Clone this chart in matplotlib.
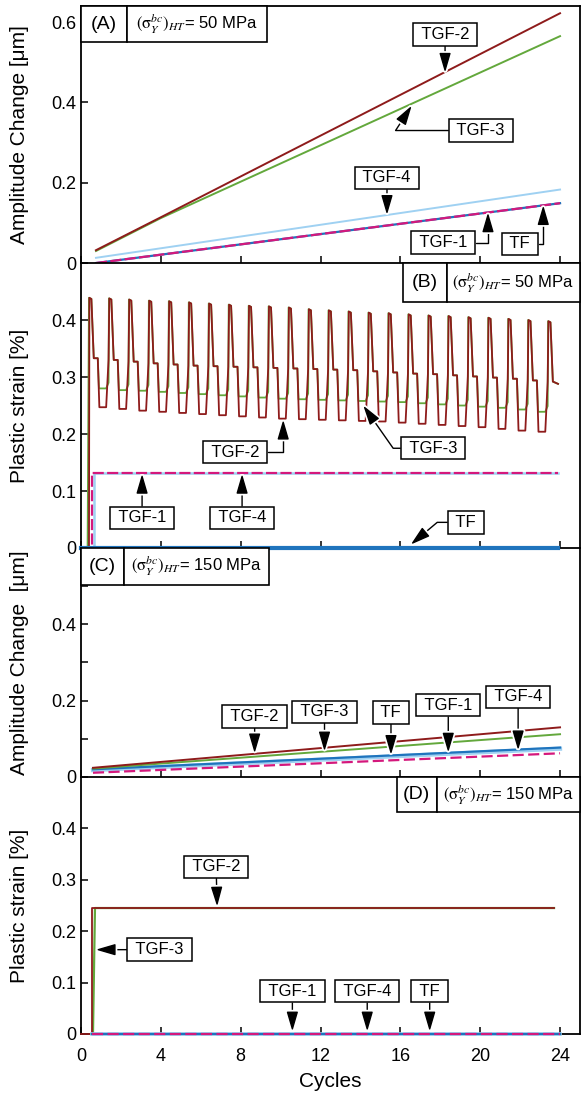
import numpy as np
import matplotlib
matplotlib.use('Agg')
import matplotlib.pyplot as plt
import matplotlib.patheffects as pe
from matplotlib.patches import Rectangle
from matplotlib.ticker import FuncFormatter

plt.rcParams['font.family'] = ['Liberation Sans', 'DejaVu Sans']
plt.rcParams['mathtext.fontset'] = 'stix'

# kolory serii
col_tgf1 = '#d4187c'
col_tgf2 = '#8e1b1b'
col_tgf3 = '#63a83c'
col_tgf4 = '#9fd1f2'
col_tf = '#1f74bd'

# --- (A) amplituda, 50 MPa ---
a_x_fast = [0.75, 4.0, 24.0]
a_tgf2 = [0.032, 0.114, 0.622]
a_tgf3 = [0.030, 0.112, 0.565]
a_x_slow = [0.75, 24.0]
a_tgf4 = [0.013, 0.183]
a_tgf1 = [0.0, 0.149]
a_tf = [0.0, 0.149]

# --- (B) odksztalcenie plastyczne, 50 MPa ---
b_cycle = np.arange(24)          # numer cyklu
b_peak = [0.439, 0.438, 0.436, 0.434, 0.433, 0.431, 0.429, 0.427, 0.425, 0.424,
          0.422, 0.419, 0.417, 0.415, 0.413, 0.412, 0.410, 0.408, 0.407, 0.405,
          0.404, 0.402, 0.400, 0.398]
b_mid = [0.333, 0.330, 0.327, 0.324, 0.322, 0.320, 0.319, 0.318, 0.317, 0.316,
         0.315, 0.314, 0.313, 0.312, 0.310, 0.308, 0.306, 0.305, 0.303, 0.301,
         0.299, 0.297, 0.294, 0.292]
b_low_tgf2 = [0.247, 0.244, 0.241, 0.239, 0.237, 0.235, 0.233, 0.231, 0.229, 0.227,
              0.226, 0.225, 0.224, 0.223, 0.222, 0.220, 0.218, 0.216, 0.214, 0.212,
              0.209, 0.206, 0.204]
b_low_tgf3 = [0.280, 0.277, 0.276, 0.274, 0.272, 0.270, 0.268, 0.266, 0.264, 0.262,
              0.261, 0.260, 0.259, 0.258, 0.257, 0.256, 0.254, 0.252, 0.250, 0.248,
              0.246, 0.243, 0.239]
b_end = 0.288
b_step_x = [0.0, 0.57, 0.57, 23.9]
b_tgf1 = [0.0, 0.0, 0.132, 0.132]
b_step_x4 = [0.0, 0.65, 0.65, 23.9]
b_tgf4 = [0.0, 0.0, 0.132, 0.132]
b_tf_x = [0.0, 23.9]
b_tf = [0.0, 0.0]

# --- (C) amplituda, 150 MPa ---
c_x = [0.6, 24.0]
c_tgf2 = [0.024, 0.130]
c_tgf3 = [0.022, 0.112]
c_tf = [0.020, 0.077]
c_tgf4 = [0.018, 0.074]
c_tgf1 = [0.011, 0.062]

# --- (D) odksztalcenie plastyczne, 150 MPa ---
d_x2 = [0.0, 0.55, 0.55, 23.7]
d_tgf2 = [0.0, 0.0, 0.245, 0.245]
d_x3 = [0.6, 0.7, 23.7]
d_tgf3 = [0.0, 0.245, 0.245]
d_x0 = [0.55, 24.0]
d_zero = [0.0, 0.0]


def sawtooth(low, rise_start, rise_peak, low_end, drop_end):
    """ Buduje przebieg pilowy z poziomow odczytanych dla kazdego cyklu """
    xs, ys = [], []
    n = len(b_peak)
    for k in range(n):
        t0 = b_cycle[k] + 0.42
        if k == 0:
            xs += [rise_start, t0 + rise_peak]
            ys += [0.0, b_peak[0]]
        else:
            xs += [t0 - 0.04, t0 + rise_peak]
            ys += [b_mid[k] if rise_peak == 0 else low[k - 1] + 0.01, b_peak[k]]
        xs += [t0 + 0.10, t0 + 0.22]
        ys += [b_peak[k] - 0.002, b_mid[k]]
        if k < n - 1:
            xs += [t0 + 0.42, t0 + drop_end, t0 + low_end]
            ys += [b_mid[k], low[k], low[k]]
        else:
            xs += [23.9]
            ys += [b_end]
    return xs, ys


fig = plt.figure(figsize=(5.81, 10.96), dpi=100)
left, width = 81 / 581, 499 / 581
axA = fig.add_axes([left, 0.7600, width, 0.2345])
axB = fig.add_axes([left, 0.5000, width, 0.2600])
axC = fig.add_axes([left, 0.2911, width, 0.2089])
axD = fig.add_axes([left, 0.0566, width, 0.2345])

fmt = FuncFormatter(lambda v, _: '{:g}'.format(round(v, 2)))

for ax in [axA, axB, axC, axD]:
    ax.patch.set_visible(False)
    ax.set_xlim(0, 25)
    ax.set_xticks([0, 4, 8, 12, 16, 20, 24])
    ax.tick_params(axis='both', which='both', direction='in', length=5, width=1.1,
                   labelsize=13, top=False, right=False)
    ax.tick_params(axis='x', pad=10)
    ax.yaxis.set_major_formatter(fmt)
    for s in ax.spines.values():
        s.set_linewidth(1.3)
    ax.yaxis.set_label_coords(-0.105, 0.5)

# granice miedzy panelami rysuje dolna os panelu wyzej
for ax in [axB, axC, axD]:
    ax.spines['top'].set_visible(False)

for ax in [axA, axB, axC]:
    ax.tick_params(axis='x', labelbottom=False)


def panel_boxes(ax, letter, value, x0, split, x1, height):
    y0 = 1 - height
    ax.add_patch(Rectangle((x0, y0), split - x0, height, transform=ax.transAxes,
                           fc='white', ec='black', lw=1.2, zorder=6, clip_on=False))
    ax.add_patch(Rectangle((split, y0), x1 - split, height, transform=ax.transAxes,
                           fc='white', ec='black', lw=1.2, zorder=6, clip_on=False))
    ax.text((x0 + split) / 2, y0 + height / 2, letter, transform=ax.transAxes,
            ha='center', va='center', fontsize=14, zorder=7)
    ax.text((split + x1) / 2, y0 + height / 2,
            r'$(\mathrm{\sigma}^{bc}_{Y})_{HT}$= ' + value + ' MPa',
            transform=ax.transAxes, ha='center', va='center', fontsize=12, zorder=7)


def tag(ax, text, box, tip, conn=None):
    props = dict(arrowstyle='-|>,head_length=1.2,head_width=0.35', color='black',
                 lw=1.0, mutation_scale=10, shrinkA=0, shrinkB=0)
    if conn is not None:
        props['connectionstyle'] = 'angle,angleA=%g,angleB=%g,rad=0' % conn
    ann = ax.annotate(' ' + text + ' ', xy=tip, xytext=box, ha='center', va='center',
                      fontsize=12, zorder=8,
                      bbox=dict(boxstyle='square,pad=0.22', fc='white', ec='black', lw=1.1),
                      arrowprops=props)
    ann.arrow_patch.set_path_effects([pe.Stroke(linewidth=3.5, foreground='white'),
                                      pe.Normal()])
    return ann


# (A)
axA.plot(a_x_fast, a_tgf3, color=col_tgf3, lw=1.4)
axA.plot(a_x_fast, a_tgf2, color=col_tgf2, lw=1.4)
axA.plot(a_x_slow, a_tgf4, color=col_tgf4, lw=1.4)
axA.plot(a_x_slow, a_tf, color=col_tf, lw=1.6)
axA.plot(a_x_slow, a_tgf1, color=col_tgf1, lw=1.6, dashes=(5, 1.5))
axA.set_ylim(0, 0.64)
axA.set_yticks([0, 0.2, 0.4, 0.6])
axA.set_ylabel('Amplitude Change [\u03bcm]', fontsize=15)
panel_boxes(axA, '(A)', '50', 0.0, 0.092, 0.373, 0.14)
tag(axA, 'TGF-2', (18.24, 0.569), (18.24, 0.474))
tag(axA, 'TGF-3', (20.04, 0.330), (16.57, 0.392), conn=(0, 57))
tag(axA, 'TGF-4', (15.33, 0.212), (15.33, 0.120))
tag(axA, 'TGF-1', (18.14, 0.051), (20.39, 0.126), conn=(0, 90))
tag(axA, 'TF', (21.99, 0.048), (23.16, 0.144), conn=(0, 90))

# (B)
gx, gy = sawtooth(b_low_tgf3, 0.33, -0.02, 0.84, 0.48)
rx, ry = sawtooth(b_low_tgf2, 0.40, 0.0, 0.84, 0.50)
axB.plot(gx, gy, color=col_tgf3, lw=1.3)
axB.plot(rx, ry, color=col_tgf2, lw=1.3)
axB.plot(b_step_x4, b_tgf4, color=col_tgf4, lw=1.8)
axB.plot(b_step_x, b_tgf1, color=col_tgf1, lw=1.6, dashes=(5, 1.5))
axB.plot(b_tf_x, b_tf, color=col_tf, lw=3.0, clip_on=False, zorder=4)
axB.set_ylim(0, 0.5)
axB.set_yticks([0, 0.1, 0.2, 0.3, 0.4])
axB.set_ylabel('Plastic strain [%]', fontsize=15)
panel_boxes(axB, '(B)', '50', 0.645, 0.733, 1.0, 0.137)
tag(axB, 'TGF-2', (7.72, 0.168), (10.13, 0.225), conn=(0, 90))
tag(axB, 'TGF-3', (17.64, 0.175), (14.14, 0.250), conn=(0, 125))
tag(axB, 'TGF-1', (3.06, 0.053), (3.06, 0.130))
tag(axB, 'TGF-4', (8.07, 0.053), (8.07, 0.130))
tag(axB, 'TF', (19.29, 0.045), (16.52, 0.006), conn=(0, 40))

# (C)
axC.plot(c_x, c_tgf4, color=col_tgf4, lw=3.0)
axC.plot(c_x, c_tf, color=col_tf, lw=1.6)
axC.plot(c_x, c_tgf1, color=col_tgf1, lw=1.6, dashes=(5, 2))
axC.plot(c_x, c_tgf3, color=col_tgf3, lw=1.4)
axC.plot(c_x, c_tgf2, color=col_tgf2, lw=1.4)
axC.set_ylim(0, 0.6)
axC.set_yticks([0, 0.2, 0.4])
axC.set_yticks([0.1, 0.3, 0.5], minor=True)
axC.set_ylabel('Amplitude Change  [\u03bcm]', fontsize=15)
panel_boxes(axC, '(C)', '150', 0.0, 0.086, 0.377, 0.16)
tag(axC, 'TGF-2', (8.70, 0.158), (8.70, 0.062))
tag(axC, 'TGF-3', (12.20, 0.171), (12.20, 0.067))
tag(axC, 'TF', (15.53, 0.169), (15.53, 0.058))
tag(axC, 'TGF-1', (18.40, 0.188), (18.40, 0.064))
tag(axC, 'TGF-4', (21.90, 0.210), (21.90, 0.070))

# (D)
axD.plot(d_x3, d_tgf3, color=col_tgf3, lw=1.6)
axD.plot(d_x2, d_tgf2, color=col_tgf2, lw=1.3, clip_on=False, zorder=3)
axD.plot(d_x0, d_zero, color=col_tgf4, lw=2.6, clip_on=False, zorder=3)
axD.plot(d_x0, d_zero, color=col_tf, lw=1.6, clip_on=False, zorder=3)
axD.plot(d_x0, d_zero, color=col_tgf1, lw=1.6, dashes=(5, 2), clip_on=False, zorder=3)
axD.set_ylim(0, 0.5)
axD.set_yticks([0, 0.1, 0.2, 0.3, 0.4])
axD.set_ylabel('Plastic strain [%]', fontsize=15)
axD.set_xlabel('Cycles', fontsize=15, labelpad=5)
panel_boxes(axD, '(D)', '150', 0.633, 0.713, 1.0, 0.136)
tag(axD, 'TGF-2', (6.77, 0.325), (6.82, 0.248))
tag(axD, 'TGF-3', (3.94, 0.164), (0.74, 0.164))
tag(axD, 'TGF-1', (10.59, 0.083), (10.59, 0.005))
tag(axD, 'TGF-4', (14.34, 0.083), (14.34, 0.005))
tag(axD, 'TF', (17.47, 0.083), (17.47, 0.005))

fig.savefig('out.png', dpi=100)
